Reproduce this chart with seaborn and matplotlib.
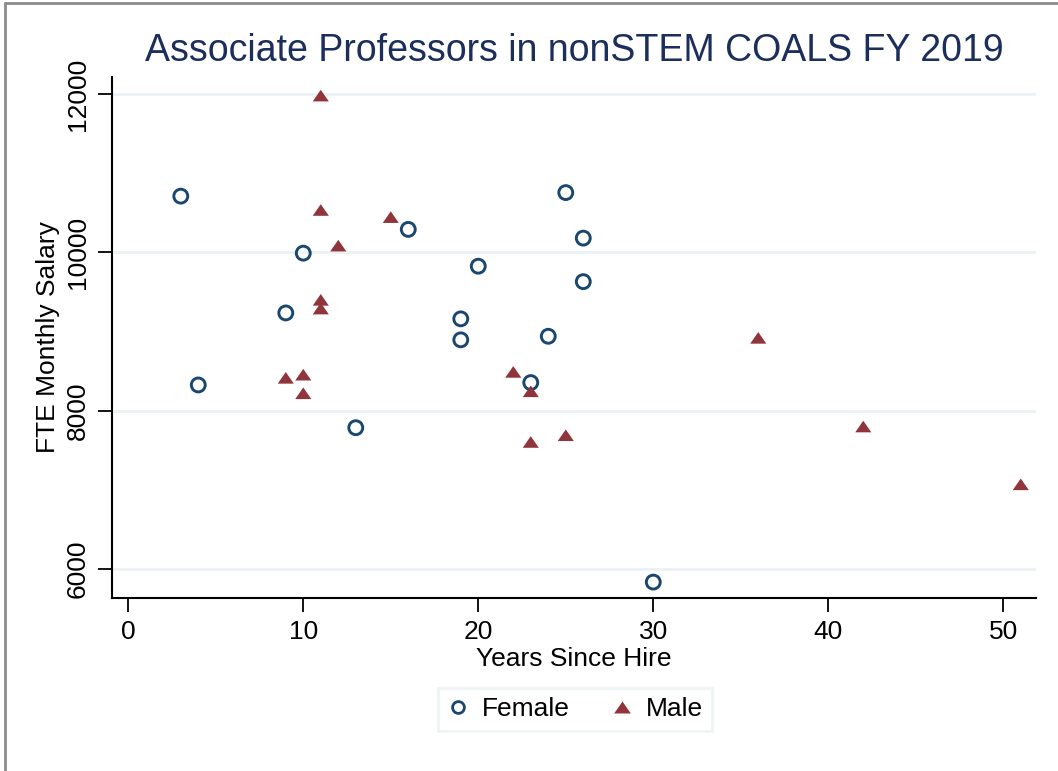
import numpy as np
import pandas as pd
import matplotlib
matplotlib.use("Agg")
import matplotlib.pyplot as plt
import seaborn as sns
from matplotlib.lines import Line2D
from matplotlib.path import Path

# ---- data ----
female_years = [3, 4, 9, 10, 13, 16, 19, 19, 20, 23, 24, 25, 26, 26, 30]
female_salary = [10710, 8325, 9235, 9990, 7785, 10290, 9160, 8895, 9825, 8355, 8940, 10755, 10180, 9630, 5835]
male_years = [9, 10, 10, 11, 11, 11, 11, 12, 15, 22, 23, 23, 25, 36, 42, 51]
male_salary = [8415, 8455, 8220, 11980, 10535, 9400, 9290, 10085, 10445, 8490, 8245, 7605, 7690, 8920, 7800, 7070]
groups = ["Female", "Male"]
title = "Associate Professors in nonSTEM COALS FY 2019"
x_ticks = [0, 10, 20, 30, 40, 50]
y_ticks = [6000, 8000, 10000, 12000]

df = pd.DataFrame({
    "years": female_years + male_years,
    "salary": female_salary + male_salary,
    "sex": [groups[0]] * len(female_years) + [groups[1]] * len(male_years),
})

navy = "#1a476f"
maroon = "#90353b"
grid_c = "#eaf2f3"

sns.set_theme(style="white")
plt.rcParams["font.family"] = ["Liberation Sans", "DejaVu Sans"]
plt.rcParams["text.color"] = "black"

fig = plt.figure(figsize=(10.58, 7.71), dpi=100)
ax = fig.add_axes([112 / 1058, 1 - 598 / 771, (1036 - 112) / 1058, (598 - 77) / 771])

tri = Path([(0, 0.72), (-1, -0.72), (1, -0.72), (0, 0.72)],
           [Path.MOVETO, Path.LINETO, Path.LINETO, Path.CLOSEPOLY])

fem = df[df["sex"] == "Female"]
mal = df[df["sex"] == "Male"]
sns.scatterplot(data=fem, x="years", y="salary", ax=ax, marker="o", s=100,
                facecolors="none", edgecolor=navy, linewidth=2.1, zorder=3)
sns.scatterplot(data=mal, x="years", y="salary", ax=ax, marker=tri, s=135,
                color=maroon, edgecolor="none", linewidth=0, zorder=3)

ax.set_xlim(-0.93, 51.87)
ax.set_ylim(5634, 12215)
ax.set_xticks(x_ticks)
ax.set_yticks(y_ticks)
ax.set_yticklabels([str(v) for v in y_ticks], rotation=90, va="center")
ax.tick_params(axis="both", which="major", direction="out", length=10, width=1.3,
               labelsize=19, color="black", labelcolor="black", pad=6,
               bottom=True, left=True)
ax.grid(axis="y", color=grid_c, linewidth=2)
ax.grid(axis="x", visible=False)
for side in ["top", "right"]:
    ax.spines[side].set_visible(False)
for side in ["left", "bottom"]:
    ax.spines[side].set_color("black")
    ax.spines[side].set_linewidth(1.5)

ax.set_xlabel("Years Since Hire", fontsize=19, color="black", labelpad=2)
ax.set_ylabel("FTE Monthly Salary", fontsize=19, color="black", labelpad=4)
fig.text(574 / 1058, 1 - 51 / 771, title, fontsize=27, color="#1c2e5c",
         ha="center", va="center")

handles = [
    Line2D([], [], marker="o", linestyle="none", markersize=8.5, markerfacecolor="none",
           markeredgecolor=navy, markeredgewidth=2),
    Line2D([], [], marker=tri, linestyle="none", markersize=12, markerfacecolor=maroon,
           markeredgecolor="none"),
]
leg = fig.legend(handles, groups, loc="center", bbox_to_anchor=(575 / 1058, 1 - 709.5 / 771),
                 ncol=2, fontsize=19, frameon=True, fancybox=False, handlelength=0.8,
                 handletextpad=0.5, columnspacing=1.6, borderpad=0.35, borderaxespad=0)
leg.get_frame().set_edgecolor(grid_c)
leg.get_frame().set_linewidth(2)
for t in leg.get_texts():
    t.set_color("black")

# outer grey frame (top and left edges)
fig.add_artist(Line2D([5 / 1058, 1], [1 - 3 / 771, 1 - 3 / 771], transform=fig.transFigure,
                      color="#8c8c8c", linewidth=2))
fig.add_artist(Line2D([5 / 1058, 5 / 1058], [0, 1 - 3 / 771], transform=fig.transFigure,
                      color="#8c8c8c", linewidth=2))

fig.savefig("out.png", dpi=100, facecolor="white")
